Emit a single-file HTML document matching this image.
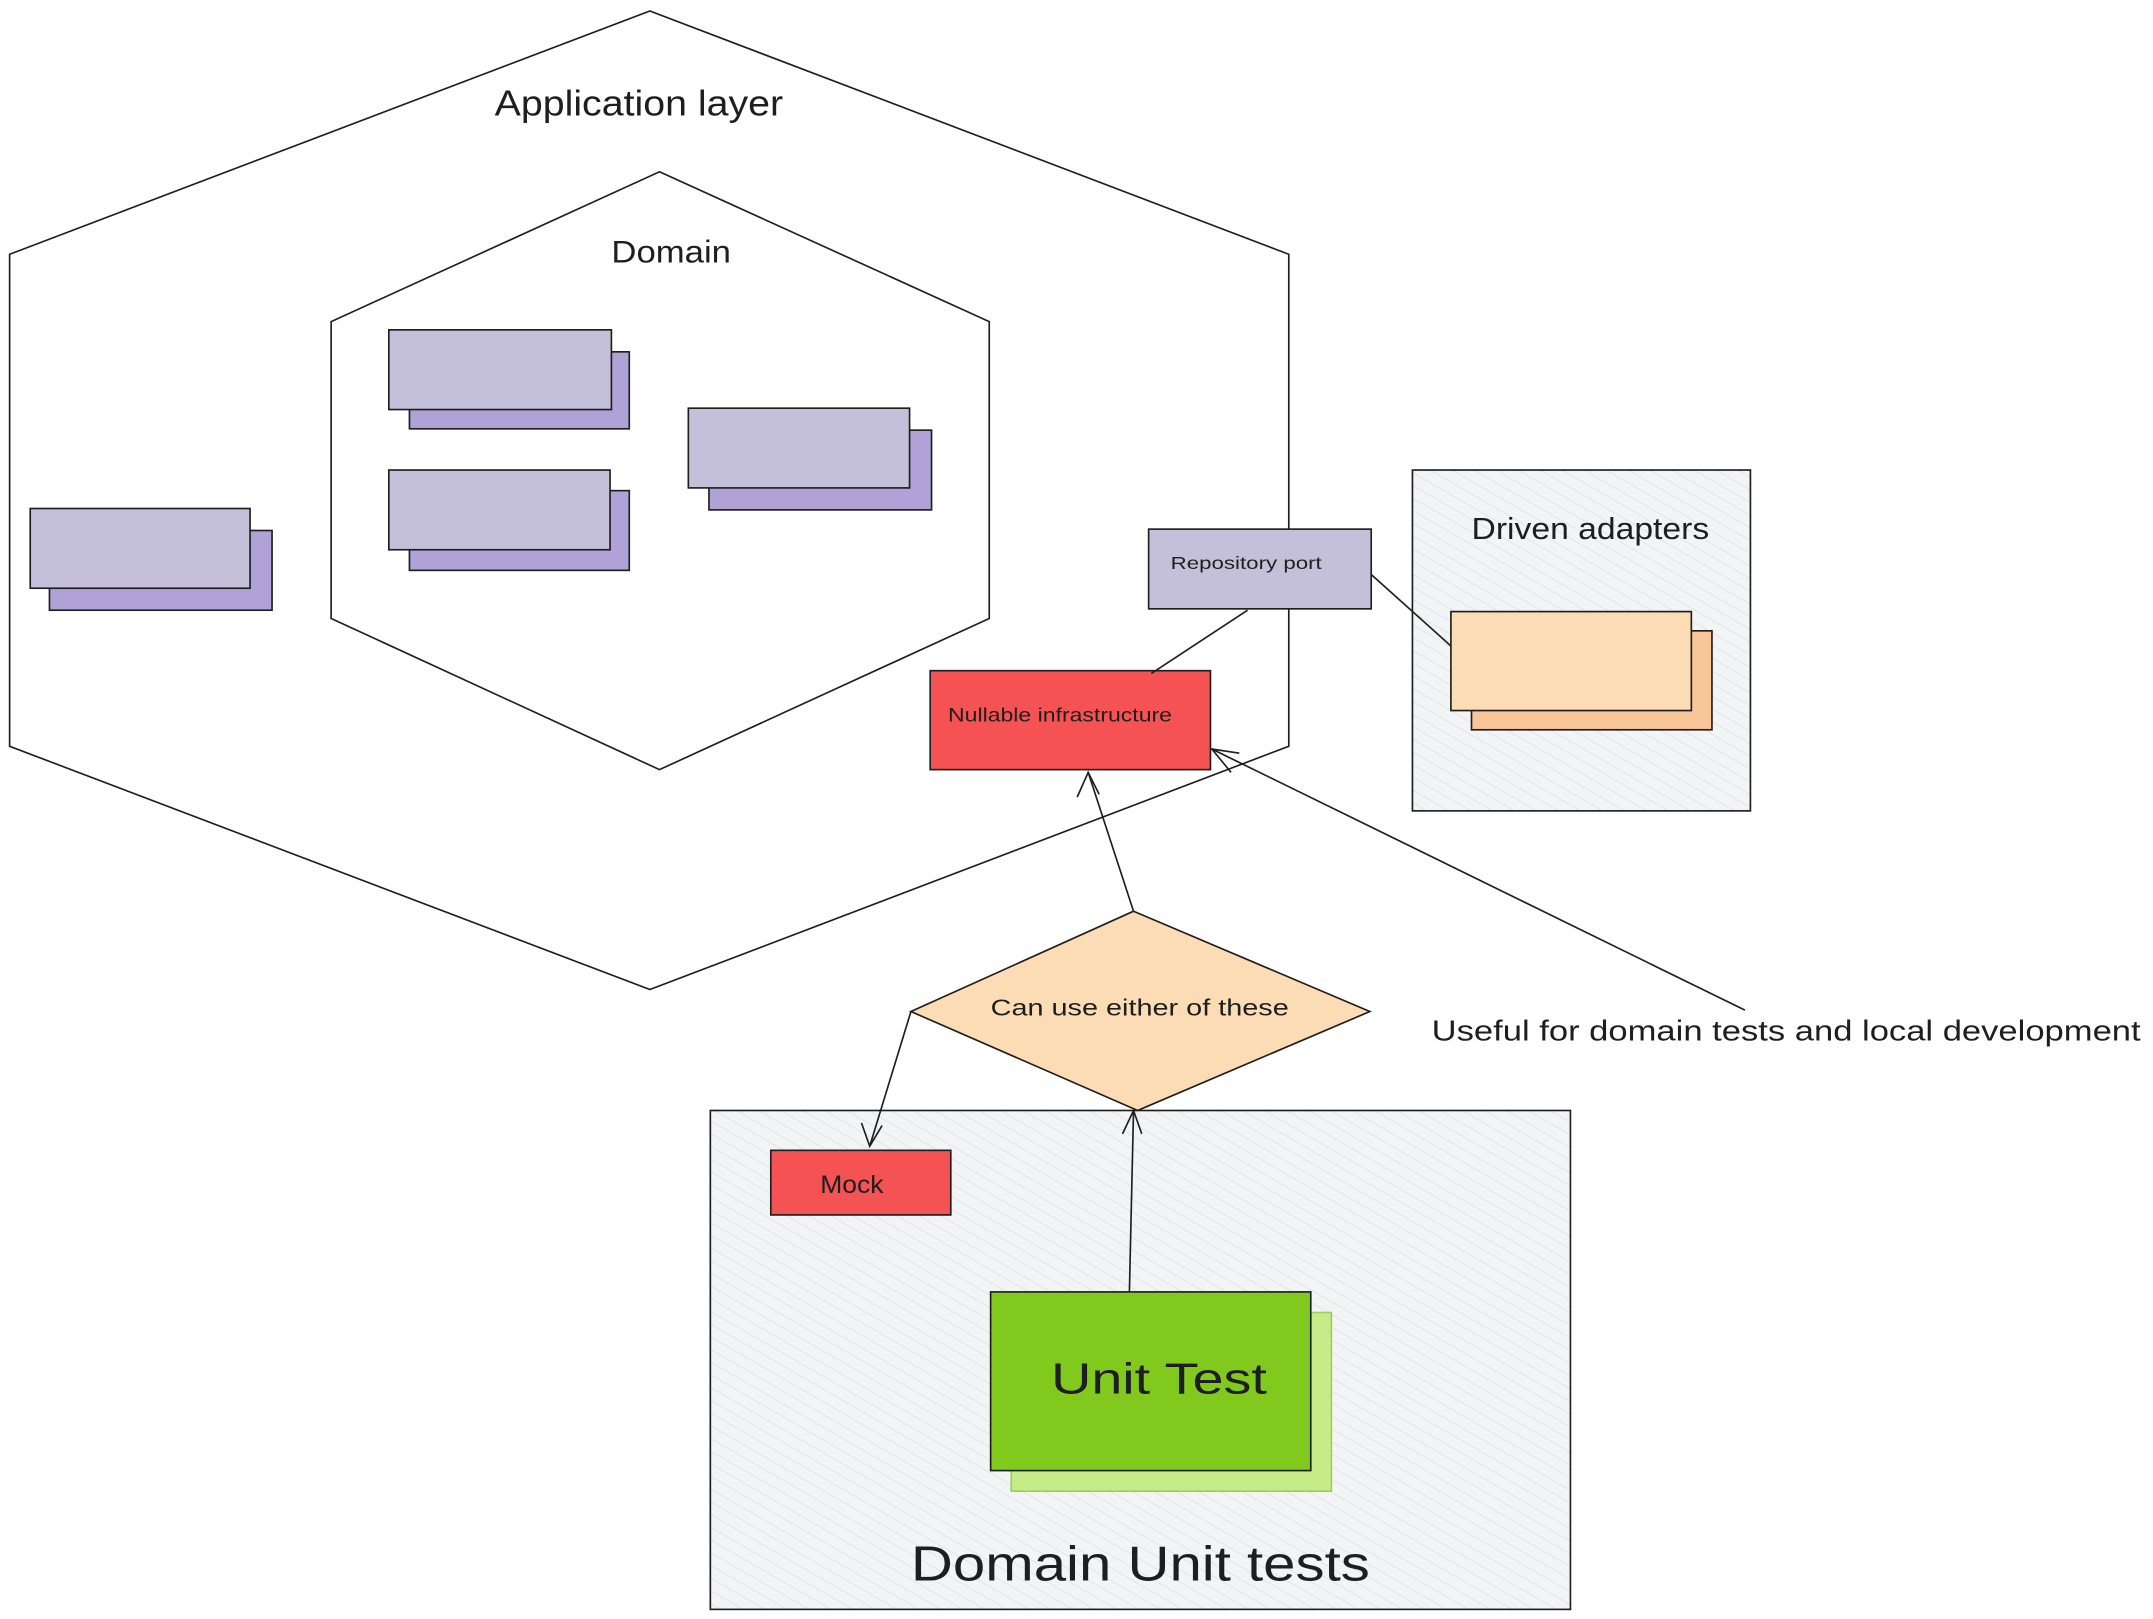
<!DOCTYPE html>
<html><head><meta charset="utf-8"><style>
html,body{margin:0;padding:0;background:#fff;}
svg{display:block;}
text{font-family:"Liberation Sans",sans-serif;fill:#1e1e1e;}
</style></head><body>
<svg width="2153" height="1619" viewBox="0 0 1567 1178" preserveAspectRatio="none" xmlns="http://www.w3.org/2000/svg">
<defs>
<pattern id="h" width="8" height="8" patternUnits="userSpaceOnUse" patternTransform="rotate(-60)">
<rect width="8" height="8" fill="#f3f4f6"/><line x1="0" y1="0" x2="0" y2="8" stroke="#dcdde0" stroke-width="1"/>
</pattern>
</defs>
<g fill="none" stroke="#1e1e1e" stroke-width="1.2">
<polygon points="473,8 938,185 938,543 473,720 7,543 7,185" fill="#fff"/>
<polygon points="480,125 720,234 720,450 480,560 241,450 241,234" fill="#fff"/>
</g>
<text x="360" y="84" font-size="26" textLength="210" lengthAdjust="spacingAndGlyphs">Application layer</text>
<text x="445" y="191" font-size="23" textLength="87" lengthAdjust="spacingAndGlyphs">Domain</text>
<g stroke="#1e1e1e" stroke-width="1.2">
<rect x="298" y="256" width="160" height="56" fill="#b0a2d6"/>
<rect x="283" y="240" width="162" height="58" fill="#c5c0da"/>
<rect x="298" y="357" width="160" height="58" fill="#b0a2d6"/>
<rect x="283" y="342" width="161" height="58" fill="#c5c0da"/>
<rect x="516" y="313" width="162" height="58" fill="#b0a2d6"/>
<rect x="501" y="297" width="161" height="58" fill="#c5c0da"/>
<rect x="36" y="386" width="162" height="58" fill="#b0a2d6"/>
<rect x="22" y="370" width="160" height="58" fill="#c5c0da"/>
<rect x="1028" y="342" width="246" height="248" fill="url(#h)"/>
<rect x="1071" y="459" width="175" height="72" fill="#f7c598"/>
<rect x="1056" y="445" width="175" height="72" fill="#fcdcb4"/>
<rect x="836" y="385" width="162" height="58" fill="#c5c0da"/>
<rect x="677" y="488" width="204" height="72" fill="#f55353"/>
<rect x="517" y="808" width="626" height="363" fill="url(#h)"/>
<polygon points="825,663 997,736 828,808 663,736" fill="#fcdcb4"/>
<rect x="561" y="837" width="131" height="47" fill="#f55353"/>
<rect x="736" y="955" width="233" height="130" fill="#c6ec8a" stroke="#9cd05a"/>
<rect x="721" y="940" width="233" height="130" fill="#82c91e"/>
</g>
<g fill="none" stroke="#1e1e1e" stroke-width="1.2">
<line x1="998" y1="418" x2="1056" y2="470"/>
<line x1="908" y1="444" x2="838" y2="490"/>
<line x1="825" y1="663" x2="792" y2="562"/>
<polyline points="784,580 792,562 800,578"/>
<line x1="663" y1="736" x2="633" y2="834"/>
<polyline points="627,817 633,834 642,819"/>
<line x1="822" y1="940" x2="825" y2="808"/>
<polyline points="817,825 825,808 831,825"/>
<line x1="1270" y1="735" x2="882" y2="545"/>
<polyline points="896,562 882,545 902,548"/>
</g>
<text x="1071" y="392" font-size="22" textLength="173" lengthAdjust="spacingAndGlyphs">Driven adapters</text>
<text x="852" y="414" font-size="13" textLength="110" lengthAdjust="spacingAndGlyphs">Repository port</text>
<text x="690" y="525" font-size="14" textLength="163" lengthAdjust="spacingAndGlyphs">Nullable infrastructure</text>
<text x="721" y="739" font-size="17" textLength="217" lengthAdjust="spacingAndGlyphs">Can use either of these</text>
<text x="1042" y="757" font-size="21" textLength="516" lengthAdjust="spacingAndGlyphs">Useful for domain tests and local development</text>
<text x="597" y="868" font-size="18" textLength="46" lengthAdjust="spacingAndGlyphs">Mock</text>
<text x="765" y="1014" font-size="32" textLength="157" lengthAdjust="spacingAndGlyphs">Unit Test</text>
<text x="663" y="1150" font-size="36" textLength="334" lengthAdjust="spacingAndGlyphs">Domain Unit tests</text>
</svg>
</body></html>
